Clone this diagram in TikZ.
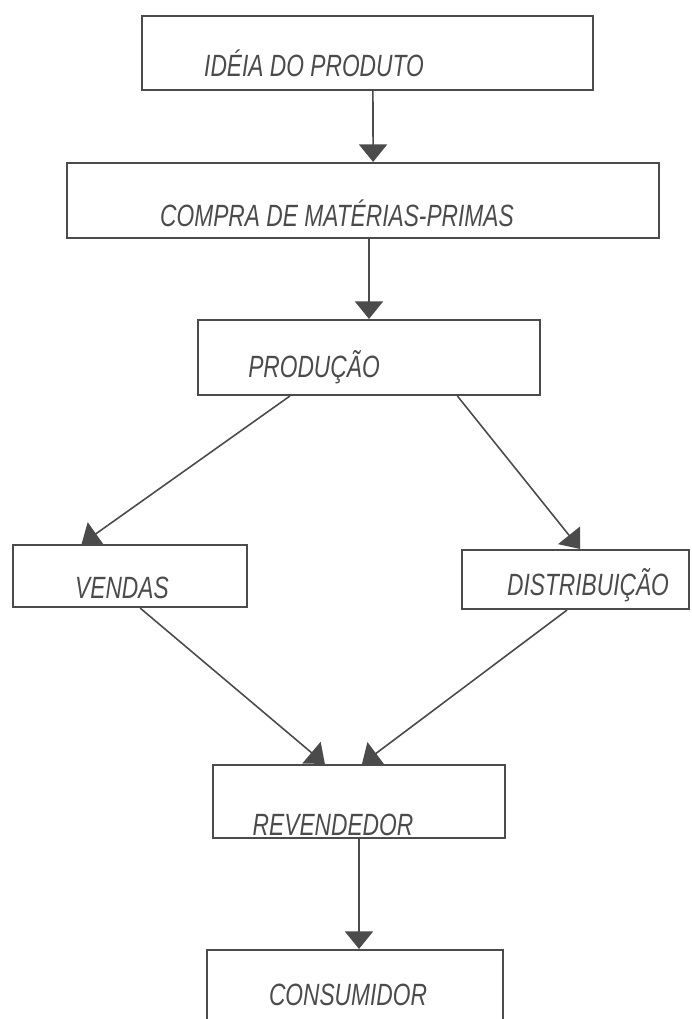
\documentclass[tikz,border=0pt]{standalone}
\usepackage{fontspec}
\newfontfamily\handfont[FakeStretch=0.74]{Liberation Sans}
\usetikzlibrary{arrows.meta,positioning,calc}
\definecolor{pencil}{RGB}{75,75,75}

\begin{document}
\begin{tikzpicture}[x=0.02cm,y=-0.02cm,>={Triangle[width=16pt,length=10pt]},
  box/.style={draw=pencil,line width=1.2pt,inner sep=0pt},
  lbl/.style={font=\handfont\itshape\fontsize{17.5}{20}\selectfont,text=pencil,inner sep=0pt},
  flow/.style={->,draw=pencil,line width=0.9pt}]
\useasboundingbox (0,0) rectangle (691,1019);
\clip (0,0) rectangle (691,1019);

% boxes
\node[box,minimum width=9.02cm,minimum height=1.48cm] (ideia) at (367.5,53) {};
\node[box,minimum width=11.84cm,minimum height=1.5cm] (compra) at (363,200.5) {};
\node[box,minimum width=6.84cm,minimum height=1.5cm] (producao) at (369,357.5) {};
\node[box,minimum width=4.68cm,minimum height=1.24cm] (vendas) at (130,576) {};
\node[box,minimum width=4.54cm,minimum height=1.18cm] (distrib) at (575.5,579.5) {};
\node[box,minimum width=5.84cm,minimum height=1.46cm] (revend) at (359,801.5) {};
\node[box,minimum width=5.92cm,minimum height=2.2cm] (consum) at (355,1005) {};

% texts
\node[lbl] (ideiatxt) at (314,63) {IDÉIA DO PRODUTO};
\node[lbl] (compratxt) at (337,213) {COMPRA DE MATÉRIAS-PRIMAS};
\node[lbl] (producaotxt) at (314,367) {PRODUÇÃO};
\node[lbl] (vendastxt) at (122,588) {VENDAS};
\node[lbl] (distribtxt) at (588,585) {DISTRIBUIÇÃO};
\node[lbl] (revendtxt) at (333,825) {REVENDEDOR};
\node[lbl] (consumtxt) at (348,995) {CONSUMIDOR};

% arrows
\draw[flow] ($(ideia.south west)!0.512!(ideia.south east)$) -- ($(compra.north west)!0.517!(compra.north east)$);
\draw[flow] (compra.south -| producao.north) -- (producao.north);
\draw[flow] ($(producao.south west)!0.27!(producao.south east)$) -- ($(vendas.north west)!0.295!(vendas.north east)$);
\draw[flow] ($(producao.south west)!0.757!(producao.south east)$) -- ($(distrib.north west)!0.52!(distrib.north east)$);
\draw[flow] ($(vendas.south west)!0.543!(vendas.south east)$) -- ($(revend.north west)!0.384!(revend.north east)$);
\draw[flow] ($(distrib.south west)!0.463!(distrib.south east)$) -- ($(revend.north west)!0.51!(revend.north east)$);
\draw[flow] (revend.south) -- (consum.north -| revend.south);
\end{tikzpicture}
\end{document}
